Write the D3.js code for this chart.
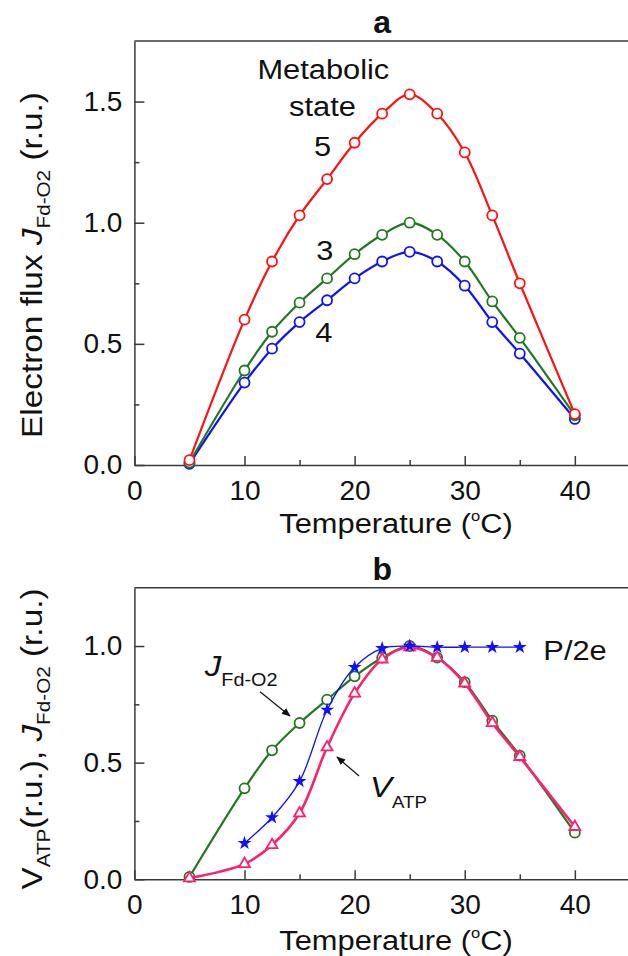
<!DOCTYPE html>
<html>
<head>
<meta charset="utf-8">
<script src="https://cdn.jsdelivr.net/npm/d3@7"></script>
<style>
  body { margin: 0; background: #fff; }
  svg { display: block; font-family: "Liberation Sans", Arial, sans-serif; }
</style>
</head>
<body>
<div id="chart"></div>
<script>
// temperatures (deg C)
const temps = [5, 10, 12.5, 15, 17.5, 20, 22.5, 25, 27.5, 30, 32.5, 35, 40]
// panel a: electron flux per metabolic state (r.u.)
const state5 = [0.02, 0.60, 0.84, 1.03, 1.18, 1.33, 1.45, 1.53, 1.45, 1.29, 1.03, 0.75, 0.21]
const state3 = [0.01, 0.39, 0.55, 0.67, 0.77, 0.87, 0.95, 1.00, 0.95, 0.84, 0.675, 0.525, 0.205]
const state4 = [0.005, 0.34, 0.48, 0.59, 0.68, 0.77, 0.84, 0.88, 0.84, 0.74, 0.59, 0.46, 0.19]
// panel b: normalised fluxes
const jFdO2 = [0.01, 0.39, 0.553, 0.67, 0.77, 0.87, 0.95, 1.00, 0.95, 0.845, 0.68, 0.53, 0.20]
const vATP = [0.005, 0.066, 0.147, 0.283, 0.566, 0.797, 0.943, 0.995, 0.95, 0.84, 0.67, 0.525, 0.225]
const starTemps = [10, 12.5, 15, 17.5, 20, 22.5, 25, 27.5, 30, 32.5, 35]
const p2e = [0.155, 0.265, 0.42, 0.726, 0.909, 0.99, 1.0, 0.995, 0.995, 0.995, 0.995]
// ticks
const xTicks = [0, 10, 20, 30, 40]
const xMinor = [5, 15, 25, 35]
const yTicksA = [0, 0.5, 1.0, 1.5]
const yMinorA = [0.25, 0.75, 1.25]
const yTicksB = [0, 0.5, 1.0]
const yMinorB = [0.25, 0.75]

const W = 628, H = 956
const axisColor = "#3a3a3a"
const red = "#ff1010", green = "#1f7a1f", blue = "#1010ff", pink = "#ff1f70"

const svg = d3.select("#chart").append("svg")
  .attr("width", W).attr("height", H)

const x = d3.scaleLinear().domain([0, 45]).range([134.4, 629.9])

// text with optional sub/superscript parts; sx stretches along the text direction
function label(g, px, py, parts, o) {
  o = o || {}
  const size = o.size || 28
  const t = g.append("text")
    .attr("transform", `translate(${px},${py}) rotate(${o.rot || 0}) scale(${o.sx || 1},1)`)
    .attr("text-anchor", o.anchor || "middle")
    .style("font-size", size + "px")
    .style("font-weight", o.bold ? "bold" : "normal")
    .attr("fill", "#111")
  let shift = 0
  parts.forEach(p => {
    const ts = t.append("tspan").text(p.t)
    let want = 0
    if (p.sub) { ts.style("font-size", (p.size || size * 0.62) + "px"); want = p.sub }
    if (p.sup) { ts.style("font-size", (p.size || size * 0.6) + "px"); want = -p.sup }
    if (p.it) ts.style("font-style", "italic")
    if (want !== shift) { ts.attr("dy", want - shift); shift = want }
  })
  return t
}

function panel(cfg) {
  const y = d3.scaleLinear().domain([0, cfg.yMax]).range([cfg.bottom, cfg.top])
  const g = svg.append("g")

  // frame top line
  g.append("line")
    .attr("x1", x(0)).attr("x2", x(45)).attr("y1", y(cfg.yMax)).attr("y2", y(cfg.yMax))
    .attr("stroke", axisColor).attr("stroke-width", 1.5)

  const xa = g.append("g").attr("transform", `translate(0,${cfg.bottom})`)
    .call(d3.axisBottom(x).tickValues(xTicks).tickSizeInner(-9).tickSizeOuter(0).tickPadding(15).tickFormat(d3.format("d")))
  const xm = g.append("g").attr("transform", `translate(0,${cfg.bottom})`)
    .call(d3.axisBottom(x).tickValues(xMinor).tickSizeInner(-5).tickSizeOuter(0).tickFormat(""))
  const ya = g.append("g").attr("transform", `translate(${x(0)},0)`)
    .call(d3.axisLeft(y).tickValues(cfg.yTicks).tickSizeInner(-10).tickSizeOuter(0).tickPadding(12).tickFormat(d3.format(".1f")))
  const ym = g.append("g").attr("transform", `translate(${x(0)},0)`)
    .call(d3.axisLeft(y).tickValues(cfg.yMinor).tickSizeInner(-5).tickSizeOuter(0).tickFormat(""))
  ;[xa, xm, ya, ym].forEach(a => {
    a.selectAll("path, line").attr("stroke", axisColor).attr("stroke-width", 1.5)
    a.selectAll("text").attr("fill", "#111").style("font-size", "28px").style("font-family", "Liberation Sans, Arial, sans-serif")
  })
  xm.select(".domain").remove()
  ym.select(".domain").remove()

  const line = d3.line()
    .x(d => x(d[0])).y(d => y(d[1]))
    .curve(d3.curveCatmullRom.alpha(0.5))

  cfg.series.forEach(s => {
    const pts = s.xs.map((t, i) => [t, s.ys[i]])
    g.append("path").attr("d", line(pts))
      .attr("fill", "none").attr("stroke", s.color).attr("stroke-width", s.lw)
    const m = g.append("g")
    if (s.marker === "circle") {
      m.selectAll("circle").data(pts).enter().append("circle")
        .attr("cx", d => x(d[0])).attr("cy", d => y(d[1])).attr("r", 5)
        .attr("fill", "#fff").attr("stroke", s.color).attr("stroke-width", 1.8)
    } else if (s.marker === "triangle") {
      m.selectAll("path").data(pts).enter().append("path")
        .attr("d", d3.symbol(d3.symbolTriangle, 52)())
        .attr("transform", d => `translate(${x(d[0])},${y(d[1])})`)
        .attr("fill", "#fff").attr("stroke", s.color).attr("stroke-width", 1.8)
    } else {
      m.selectAll("path").data(pts).enter().append("path")
        .attr("d", d3.symbol(d3.symbolStar, 60)())
        .attr("transform", d => `translate(${x(d[0])},${y(d[1])})`)
        .attr("fill", s.color)
    }
  })

  label(g, x(22.5), cfg.titleY, [{ t: cfg.title }], { size: 32, bold: true })
  label(g, 396, cfg.labelY, [{ t: "Temperature (" }, { t: "o", sup: 12, size: 15 }, { t: "C)", sup: 0 }], { sx: 1.1 })
  label(g, 42, cfg.yLabelMid, cfg.yLabel, { rot: -90, sx: 1.15, size: 29 })
  return { g, y }
}

// ---- panel a
const pa = panel({
  top: 41, bottom: 465, yMax: 1.75, yTicks: yTicksA, yMinor: yMinorA,
  title: "a", titleY: 33, labelY: 533, yLabelMid: 265,
  yLabel: [{ t: "Electron flux " }, { t: "J", it: true }, { t: "Fd-O2", sub: 8, size: 18 }, { t: " (r.u.)" }],
  series: [
    { xs: temps, ys: state4, color: blue, lw: 2.2, marker: "circle" },
    { xs: temps, ys: state3, color: green, lw: 2.2, marker: "circle" },
    { xs: temps, ys: state5, color: red, lw: 2.2, marker: "circle" }
  ]
})
label(pa.g, x(17.16), pa.y(1.595), [{ t: "Metabolic" }], { sx: 1.1 })
label(pa.g, x(17.08), pa.y(1.442), [{ t: "state" }], { sx: 1.1 })
label(pa.g, x(17.1), pa.y(1.277), [{ t: "5" }], { sx: 1.1 })
label(pa.g, x(17.3), pa.y(0.845), [{ t: "3" }], { sx: 1.1 })
label(pa.g, x(17.2), pa.y(0.507), [{ t: "4" }], { sx: 1.1 })

// ---- panel b
const pb = panel({
  top: 587.7, bottom: 879.3, yMax: 1.25, yTicks: yTicksB, yMinor: yMinorB,
  title: "b", titleY: 580, labelY: 950, yLabelMid: 739,
  yLabel: [{ t: "V" }, { t: "ATP", sub: 8, size: 18 }, { t: "(r.u.), " }, { t: "J", it: true }, { t: "Fd-O2", sub: 8, size: 18 }, { t: " (r.u.)" }],
  series: [
    { xs: temps, ys: jFdO2, color: green, lw: 2.2, marker: "circle" },
    { xs: temps, ys: vATP, color: pink, lw: 2.6, marker: "triangle" },
    { xs: starTemps, ys: p2e, color: blue, lw: 1.3, marker: "star" }
  ]
})
label(pb.g, x(6.4), pb.y(0.87), [{ t: "J", it: true }, { t: "Fd-O2", sub: 10, size: 18 }], { anchor: "start", size: 30, sx: 1.1 })
label(pb.g, x(21.4), pb.y(0.353), [{ t: "V", it: true }, { t: "ATP", sub: 11, size: 17 }], { anchor: "start", size: 30, sx: 1.1 })
label(pb.g, x(37.14), pb.y(0.94), [{ t: "P/2e" }], { anchor: "start", sx: 1.1 })

// annotation arrows
const defs = svg.append("defs")
defs.append("marker").attr("id", "arr").attr("viewBox", "0 0 10 10")
  .attr("refX", 9).attr("refY", 5).attr("markerWidth", 9).attr("markerHeight", 9)
  .attr("markerUnits", "userSpaceOnUse").attr("orient", "auto")
  .append("path").attr("d", "M0,1 L10,5 L0,9 Z").attr("fill", "#111")
const arrows = [[11.41, 0.804, 14.13, 0.70], [20.4, 0.443, 18.4, 0.524]]
pb.g.selectAll("line.arrow").data(arrows).enter().append("line")
  .attr("class", "arrow")
  .attr("x1", d => x(d[0])).attr("y1", d => pb.y(d[1]))
  .attr("x2", d => x(d[2])).attr("y2", d => pb.y(d[3]))
  .attr("stroke", "#111").attr("stroke-width", 1.2).attr("marker-end", "url(#arr)")
</script>
</body>
</html>
